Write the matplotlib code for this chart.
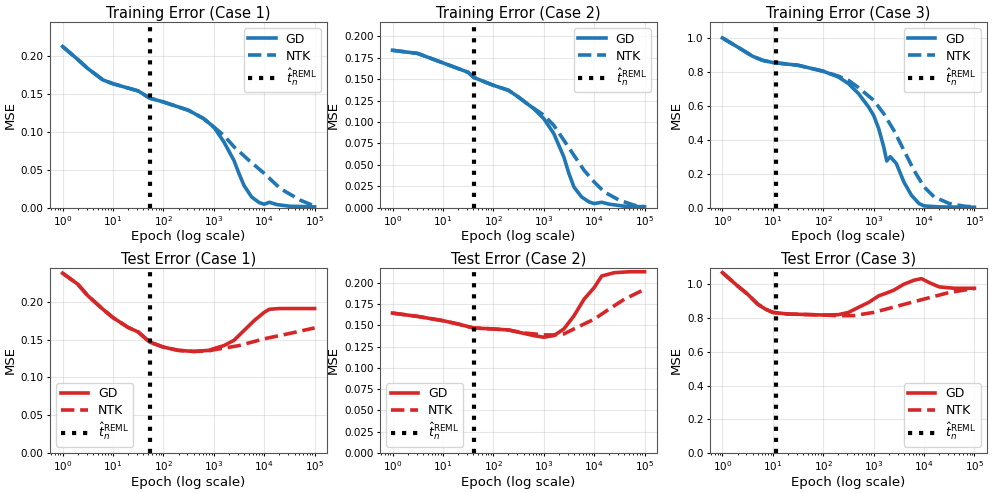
import numpy as np
import matplotlib
matplotlib.use("Agg")
import matplotlib.pyplot as plt
from matplotlib.ticker import MultipleLocator

# ---------------- data ----------------
# Training, Case 1
tr1_gd_logx = [0, 0.3, 0.5, 0.8, 1.0, 1.5, 1.73, 2.0, 2.5, 2.8, 3.0, 3.2, 3.4, 3.5, 3.6, 3.75, 3.9, 4.0, 4.1, 4.25, 4.5, 5.0]
tr1_gd_y = [0.212, 0.195, 0.183, 0.168, 0.163, 0.1535, 0.144, 0.139, 0.128, 0.117, 0.106, 0.0864, 0.062, 0.0447, 0.029, 0.014, 0.0066, 0.0044, 0.007, 0.004, 0.0018, 0.001]
tr1_ntk_logx = [0, 0.3, 0.5, 0.8, 1.0, 1.5, 1.73, 2.0, 2.5, 2.8, 3.0, 3.2, 3.4, 3.7, 4.0, 4.32, 4.72, 5.0]
tr1_ntk_y = [0.212, 0.195, 0.183, 0.168, 0.163, 0.1535, 0.144, 0.139, 0.128, 0.117, 0.106, 0.095, 0.080, 0.062, 0.045, 0.025, 0.0096, 0.002]

# Training, Case 2
tr2_gd_logx = [0, 0.5, 1.0, 1.5, 1.61, 2.0, 2.3, 2.5, 2.8, 3.0, 3.2, 3.4, 3.5, 3.6, 3.75, 3.9, 4.0, 4.15, 4.3, 4.6, 5.0]
tr2_gd_y = [0.1837, 0.180, 0.169, 0.158, 0.152, 0.1428, 0.137, 0.129, 0.1156, 0.104, 0.0864, 0.059, 0.0397, 0.024, 0.0125, 0.0066, 0.0047, 0.0062, 0.004, 0.0016, 0.001]
tr2_ntk_logx = [0, 0.5, 1.0, 1.5, 1.61, 2.0, 2.3, 2.5, 2.7, 3.0, 3.2, 3.4, 3.6, 3.8, 4.0, 4.2, 4.5, 4.8, 5.0]
tr2_ntk_y = [0.1837, 0.180, 0.169, 0.158, 0.152, 0.1428, 0.137, 0.129, 0.120, 0.108, 0.096, 0.0786, 0.061, 0.0436, 0.030, 0.0183, 0.0086, 0.0027, 0.001]

# Training, Case 3
tr3_gd_logx = [0, 0.3, 0.6, 0.8, 1.0, 1.07, 1.5, 2.0, 2.3, 2.5, 2.7, 2.9, 3.0, 3.1, 3.2, 3.26, 3.33, 3.45, 3.6, 3.75, 3.9, 4.0, 4.3, 5.0]
tr3_gd_y = [1.0, 0.947, 0.892, 0.868, 0.855, 0.853, 0.839, 0.804, 0.77, 0.731, 0.672, 0.593, 0.544, 0.466, 0.358, 0.275, 0.300, 0.26, 0.151, 0.0727, 0.024, 0.010, 0.004, 0.002]
tr3_ntk_logx = [0, 0.3, 0.6, 0.8, 1.0, 1.07, 1.5, 2.0, 2.3, 2.5, 2.7, 3.0, 3.2, 3.4, 3.6, 3.8, 4.0, 4.2, 4.5, 4.8, 5.0]
tr3_ntk_y = [1.0, 0.947, 0.892, 0.868, 0.855, 0.853, 0.839, 0.804, 0.775, 0.75, 0.707, 0.633, 0.554, 0.456, 0.338, 0.22, 0.122, 0.063, 0.024, 0.008, 0.004]

# Test, Case 1
te1_gd_logx = [0, 0.3, 0.5, 0.8, 1.0, 1.3, 1.5, 1.73, 2.0, 2.3, 2.6, 2.9, 3.0, 3.2, 3.4, 3.6, 3.8, 4.0, 4.1, 4.3, 5.0]
te1_gd_y = [0.2377, 0.2232, 0.208, 0.190, 0.179, 0.166, 0.160, 0.1466, 0.140, 0.1357, 0.1343, 0.1357, 0.138, 0.142, 0.149, 0.162, 0.175, 0.186, 0.190, 0.191, 0.191]
te1_ntk_logx = [0, 0.3, 0.5, 0.8, 1.0, 1.3, 1.5, 1.73, 2.0, 2.3, 2.6, 2.9, 3.0, 3.5, 4.0, 4.5, 5.0]
te1_ntk_y = [0.2377, 0.2232, 0.208, 0.190, 0.179, 0.166, 0.160, 0.1466, 0.140, 0.1357, 0.1343, 0.1350, 0.1365, 0.142, 0.151, 0.158, 0.1654]

# Test, Case 2
te2_gd_logx = [0, 0.5, 1.0, 1.3, 1.61, 2.0, 2.3, 2.6, 2.8, 3.0, 3.2, 3.4, 3.6, 3.8, 4.0, 4.15, 4.4, 4.7, 5.0]
te2_gd_y = [0.1642, 0.1603, 0.1553, 0.1514, 0.1467, 0.1456, 0.1444, 0.1405, 0.1378, 0.1359, 0.1378, 0.1456, 0.161, 0.1805, 0.194, 0.2077, 0.2116, 0.2127, 0.2127]
te2_ntk_logx = [0, 0.5, 1.0, 1.3, 1.61, 2.0, 2.3, 2.6, 2.8, 3.0, 3.2, 3.4, 3.6, 3.8, 4.0, 4.3, 4.6, 5.0]
te2_ntk_y = [0.1642, 0.1603, 0.1553, 0.1514, 0.1467, 0.1456, 0.1444, 0.1410, 0.1398, 0.1386, 0.1386, 0.1398, 0.1456, 0.1514, 0.157, 0.169, 0.1805, 0.192]

# Test, Case 3
te3_gd_logx = [0, 0.3, 0.5, 0.7, 0.85, 1.0, 1.3, 2.0, 2.3, 2.5, 2.7, 2.9, 3.1, 3.25, 3.4, 3.6, 3.8, 3.95, 4.1, 4.3, 4.6, 5.0]
te3_gd_y = [1.069, 0.99, 0.941, 0.882, 0.853, 0.833, 0.8235, 0.8176, 0.8196, 0.833, 0.863, 0.892, 0.931, 0.947, 0.9647, 1.0, 1.0235, 1.033, 1.01, 0.984, 0.976, 0.976]
te3_ntk_logx = [0, 0.3, 0.5, 0.7, 0.85, 1.0, 1.3, 2.0, 2.3, 2.6, 3.0, 3.5, 4.0, 4.5, 5.0]
te3_ntk_y = [1.069, 0.99, 0.941, 0.882, 0.853, 0.833, 0.8235, 0.8176, 0.8137, 0.8137, 0.833, 0.8725, 0.912, 0.951, 0.9745]

reml_t = [53.7, 40.7, 11.7]
train_ylim = [0.244, 0.2165, 1.093]
test_ylim = [0.245, 0.2175, 1.098]
y_tick_step = [0.05, 0.025, 0.2]
case_names = ["Case 1", "Case 2", "Case 3"]
test_legend_loc = ["lower left", "lower left", "lower right"]

train_data = [(tr1_gd_logx, tr1_gd_y, tr1_ntk_logx, tr1_ntk_y),
              (tr2_gd_logx, tr2_gd_y, tr2_ntk_logx, tr2_ntk_y),
              (tr3_gd_logx, tr3_gd_y, tr3_ntk_logx, tr3_ntk_y)]
test_data = [(te1_gd_logx, te1_gd_y, te1_ntk_logx, te1_ntk_y),
             (te2_gd_logx, te2_gd_y, te2_ntk_logx, te2_ntk_y),
             (te3_gd_logx, te3_gd_y, te3_ntk_logx, te3_ntk_y)]

BLUE = "#1f77b4"
RED = "#d62728"
reml_label = r"$\hat{t}_n^{\mathrm{REML}}$"

fig, axes = plt.subplots(2, 3, figsize=(9.94, 4.93), dpi=100)
fig.subplots_adjust(left=0.0503, right=0.993, top=0.955, bottom=0.081,
                    wspace=0.19, hspace=0.324)


def draw(ax, data, color, title, tline, ymax, step, loc):
    gx, gy, nx, ny = data
    ax.plot(10 ** np.array(gx), gy, color=color, lw=2.6, label="GD")
    ax.plot(10 ** np.array(nx), ny, color=color, lw=2.6, ls="--", label="NTK")
    ax.axvline(tline, color="black", lw=3, ls=":", label=reml_label)
    ax.set_xscale("log")
    ax.set_ylim(0, ymax)
    ax.yaxis.set_major_locator(MultipleLocator(step))
    ax.set_title(title, fontsize=10.5, pad=3)
    ax.set_xlabel("Epoch (log scale)", fontsize=9.5, labelpad=2)
    ax.set_ylabel("MSE", fontsize=9.5, labelpad=3)
    ax.tick_params(which="major", labelsize=7.5, length=2.5, pad=2)
    ax.tick_params(which="minor", length=1.5)
    ax.grid(True, alpha=0.3)
    for s in ax.spines.values():
        s.set_color("#555555")
    ax.legend(loc=loc, fontsize=9, labelspacing=0.3, handlelength=2.2,
              borderpad=0.35)


for i in range(3):
    draw(axes[0, i], train_data[i], BLUE, f"Training Error ({case_names[i]})",
         reml_t[i], train_ylim[i], y_tick_step[i], "upper right")
    draw(axes[1, i], test_data[i], RED, f"Test Error ({case_names[i]})",
         reml_t[i], test_ylim[i], y_tick_step[i], test_legend_loc[i])

fig.savefig("out.png", dpi=100)
